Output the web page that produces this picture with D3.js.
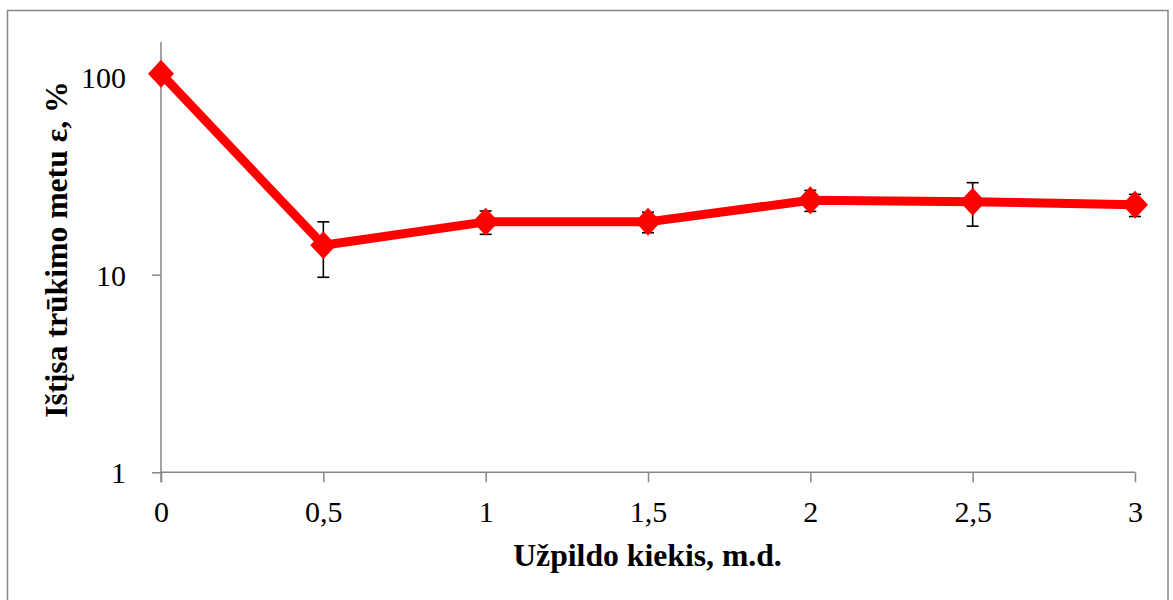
<!DOCTYPE html>
<html>
<head>
<meta charset="utf-8">
<script src="https://cdn.jsdelivr.net/npm/d3@7/dist/d3.min.js"></script>
<style>
  html, body { margin: 0; padding: 0; background: #fff; }
  svg { display: block; }
  text { font-family: "Liberation Serif", "Times New Roman", serif; fill: #000; }
</style>
</head>
<body>
<svg id="chart" width="1173" height="600"></svg>
<script>
// Data
const xValues = [0, 0.5, 1, 1.5, 2, 2.5, 3];
const yValues = [104, 14.1, 18.5, 18.5, 23.8, 23.4, 22.6];
const yErrors = [0, 4.4, 2.5, 2.2, 2.9, 5.8, 2.9];
const xTicks = [0, 0.5, 1, 1.5, 2, 2.5, 3];
const yTicks = [1, 10, 100];
const xTitle = "Užpildo kiekis, m.d.";
const yTitle = "Ištįsa trūkimo metu ε, %";

(function () {
const svg = d3.select("#chart");
const axisColor = "#868686";

// Outer border
svg.append("rect")
  .attr("x", 7.5).attr("y", 10.5)
  .attr("width", 1160.5).attr("height", 600)
  .attr("fill", "none").attr("stroke", axisColor).attr("stroke-width", 1.5);

const pLeft = 161, pRight = 1135, pTop = 42, pBottom = 472.3;
const x = d3.scaleLinear().domain([0, 3]).range([pLeft, pRight]);
const y = d3.scaleLog().domain([1, 150.4]).range([pBottom, pTop]);

const fmt = d => String(d).replace(".", ",");

// X axis
const xAxis = svg.append("g")
  .attr("transform", `translate(0,${pBottom})`)
  .call(d3.axisBottom(x).tickValues(xTicks).tickFormat(fmt).tickSize(10).tickSizeOuter(0).tickPadding(16));
xAxis.select(".domain").attr("stroke", axisColor).attr("stroke-width", 1.5)
  .attr("d", `M${pLeft},0H${pRight}`);
xAxis.selectAll(".tick line").attr("stroke", axisColor).attr("stroke-width", 1.5);
xAxis.selectAll(".tick text")
  .attr("font-family", "Liberation Serif").attr("font-size", 30)
  .attr("fill", "#000").attr("dy", null).attr("y", 49.5);

// Y axis
const yAxis = svg.append("g")
  .attr("transform", `translate(${pLeft},0)`)
  .call(d3.axisLeft(y).tickValues(yTicks).tickFormat(d3.format("d")).tickSize(9).tickSizeOuter(0).tickPadding(26));
yAxis.select(".domain").attr("stroke", axisColor).attr("stroke-width", 1.5)
  .attr("d", `M0,${pTop}V${pBottom + 10}`);
yAxis.selectAll(".tick line").attr("stroke", axisColor).attr("stroke-width", 1.5);
yAxis.selectAll(".tick text")
  .attr("font-family", "Liberation Serif").attr("font-size", 30)
  .attr("fill", "#000").attr("dy", null).attr("y", 10.5);

// Axis titles
svg.append("text")
  .attr("x", 647.5).attr("y", 566)
  .attr("text-anchor", "middle")
  .attr("font-weight", "bold").attr("font-size", 31.7)
  .text(xTitle);

svg.append("text")
  .attr("transform", "translate(67,249.5) rotate(-90)")
  .attr("text-anchor", "middle")
  .attr("font-weight", "bold").attr("font-size", 31.7)
  .text(yTitle);

const pts = xValues.map((d, i) => ({ x: d, y: yValues[i], e: yErrors[i] }));

// Error bars
const eb = svg.append("g").attr("stroke", "#000").attr("stroke-width", 1.6);
pts.filter(p => p.e > 0).forEach(p => {
  const cx = x(p.x), y1 = y(p.y + p.e), y2 = y(p.y - p.e);
  eb.append("line").attr("x1", cx).attr("x2", cx).attr("y1", y1).attr("y2", y2);
  eb.append("line").attr("x1", cx - 6).attr("x2", cx + 6).attr("y1", y1).attr("y2", y1);
  eb.append("line").attr("x1", cx - 6).attr("x2", cx + 6).attr("y1", y2).attr("y2", y2);
});

// Line
svg.append("path")
  .datum(pts)
  .attr("fill", "none").attr("stroke", "#ff0000").attr("stroke-width", 9)
  .attr("stroke-linejoin", "round")
  .attr("d", d3.line().x(d => x(d.x)).y(d => y(d.y)));

// Markers
svg.append("g").selectAll("path")
  .data(pts).join("path")
  .attr("fill", "#ff0000")
  .attr("d", d => {
    const cx = x(d.x), cy = y(d.y), w = 13, h = 14;
    return `M${cx},${cy - h}L${cx + w},${cy}L${cx},${cy + h}L${cx - w},${cy}Z`;
  });
})();
</script>
</body>
</html>
